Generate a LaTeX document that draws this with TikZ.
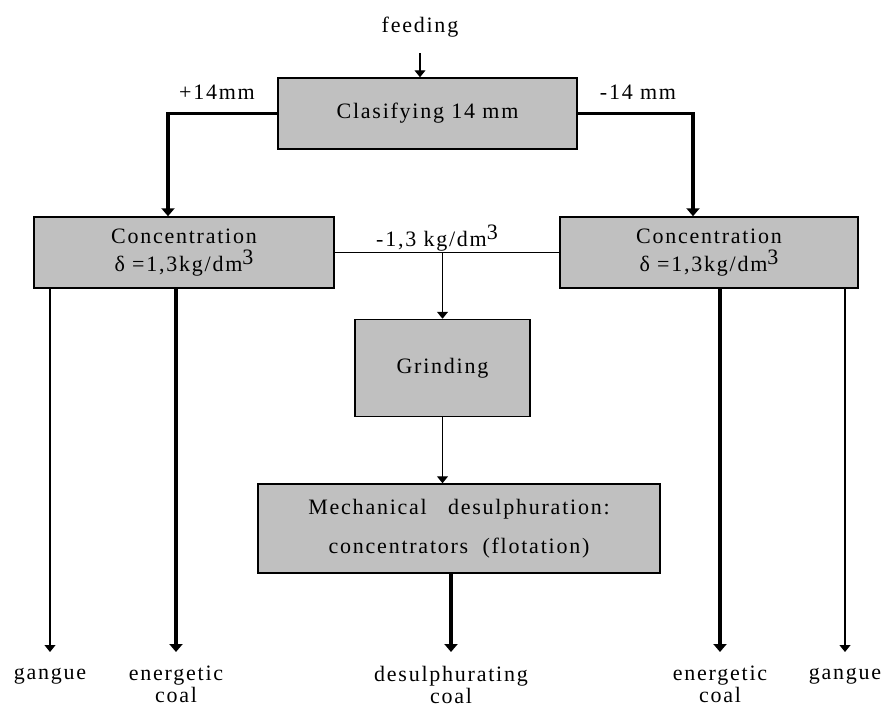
\documentclass[tikz,border=0pt]{standalone}
\usepackage{fontspec}
\setmainfont{Liberation Serif}[LetterSpace=8]
\usepackage{tikz}
\usetikzlibrary{arrows.meta,positioning}
\definecolor{boxgray}{HTML}{C0C0C0}
\newcommand{\cubic}{\raisebox{0.3em}{3}}

\begin{document}
\begin{tikzpicture}[x=1pt, y=-1pt, every node/.style={font=\fontsize{22}{28}\selectfont},
    box/.style={draw, line width=1.5pt, fill=boxgray, inner sep=0pt, align=center},
    plainline/.style={line width=1.2pt},
    feedline/.style={line width=1.2pt, -{Triangle[width=11pt,length=7pt]}},
    mainline/.style={line width=3.5pt, -{Triangle[width=13pt,length=8pt]}}]
    \useasboundingbox (0,0) rectangle (889,707);

    \node (feed) at (420,27) {feeding};
    \node[box, minimum width=299pt, minimum height=71pt] (clas) at (427.5,113.5) {Clasifying 14 mm};
    \node (plus) at (217,92) {+14mm};
    \node (minus) at (638,92) {-14 mm};
    \node[box, minimum width=300pt, minimum height=71pt] (concL) at (184,252.5) {Concentration\\ δ =1,3kg/dm\cubic};
    \node[box, minimum width=298pt, minimum height=71pt] (concR) at (709,252.5) {Concentration\\ δ =1,3kg/dm\cubic};
    \node (dens) at (437,238) {-1,3 kg/dm\cubic};
    \node[box, minimum width=175pt, minimum height=97pt] (grind) at (442.5,368) {Grinding};
    \node[box, minimum width=402pt, minimum height=89pt] (mech) at (459,528.5) {Mechanical \hspace{14pt}desulphuration:\\[11pt] concentrators \hspace{7pt}(flotation)};

    % outputs
    \coordinate (tipline) at (0,652);
    \node (gangL) at (50,676) {gangue};
    \node[align=center, font=\fontsize{22}{22}\selectfont] (ecoalL) at (176,684) {energetic\\ coal};
    \node[align=center, font=\fontsize{22}{22}\selectfont] (dscoal) at (451,685) {desulphurating\\ coal};
    \node[align=center, font=\fontsize{22}{22}\selectfont] (ecoalR) at (720,684) {energetic\\ coal};
    \node (gangR) at (845,676) {gangue};

    \draw[feedline] ([yshift=-26pt]feed.center) -- (clas.north -| feed);
    \draw[mainline] (clas.west) -| ([xshift=-16pt]concL.north);
    \draw[mainline] (clas.east) -| ([xshift=-16pt]concR.north);
    \draw[plainline] (concL.east) -- (concR.west);
    \draw[feedline] (grind.north |- concL.east) -- (grind.north);
    \draw[feedline] (grind.south) -- (grind.south |- mech.north);
    \draw[mainline] (dscoal |- mech.south) -- (dscoal |- tipline);
    \draw[feedline] (gangL |- concL.south) -- (gangL |- tipline);
    \draw[mainline] (ecoalL |- concL.south) -- (ecoalL |- tipline);
    \draw[mainline] (ecoalR |- concR.south) -- (ecoalR |- tipline);
    \draw[feedline] (gangR |- concR.south) -- (gangR |- tipline);
\end{tikzpicture}
\end{document}
